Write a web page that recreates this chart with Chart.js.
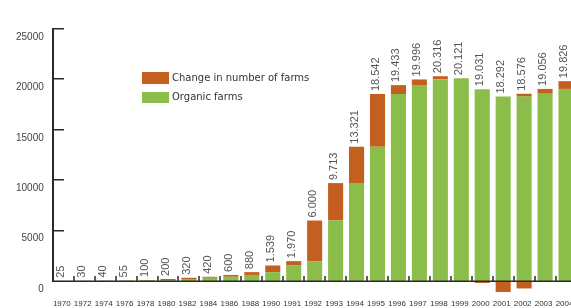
<!DOCTYPE html>
<html>
<head>
<meta charset="utf-8">
<script src="https://cdn.jsdelivr.net/npm/chart.js@4"></script>
<style>
  html, body { margin: 0; padding: 0; background: #fff; overflow: hidden; }
  canvas { display: block; }
</style>
</head>
<body>
<canvas id="grafica" width="578" height="308"></canvas>
<script>
// Años (los primeros cada dos años, luego anuales)
const years = ['1970', '1972', '1974', '1976', '1978', '1980', '1982', '1984', '1986', '1988',
  '1990', '1991', '1992', '1993', '1994', '1995', '1996', '1997', '1998', '1999',
  '2000', '2001', '2002', '2003', '2004'];

// Granjas orgánicas (parte verde)
const organic = [25, 25, 30, 40, 55, 100, 200, 320, 420, 600,
  880, 1539, 1970, 6000, 9713, 13321, 18542, 19433, 19996, 20121,
  19031, 18292, 18292, 18576, 19056];

// Cambio en número de granjas (parte naranja, positiva)
const change = [0, 5, 10, 15, 45, 100, 120, 100, 180, 280,
  659, 431, 4030, 3713, 3608, 5221, 891, 563, 320, 0,
  0, 0, 284, 480, 770];

// Descensos (naranja bajo el cero)
const decline = [0, 0, 0, 0, 0, 0, 0, 0, 0, 0,
  0, 0, 0, 0, 0, 0, 0, 0, 0, 0,
  -195, -1090, -739, 0, 0];

// Etiquetas con el total sobre cada barra
const totalLabels = ['25', '30', '40', '55', '100', '200', '320', '420', '600', '880',
  '1.539', '1.970', '6.000', '9.713', '13.321', '18.542', '19.433', '19.996', '20.316', '20.121',
  '19.031', '18.292', '18.576', '19.056', '19.826'];

const yTicks = [0, 5000, 10000, 15000, 20000, 25000];

const NARANJA = '#c4601f';
const VERDE = '#8bbd4a';

// Ejes dibujados a mano: eje y con marcas hacia dentro, línea base, marcas entre barras y años
const ejesPlugin = {
  id: 'ejes',
  afterDatasetsDraw(chart) {
    const ctx = chart.ctx;
    const x = chart.scales.x;
    const y = chart.scales.y;
    const left = Math.round(chart.chartArea.left);
    const y0 = Math.round(y.getPixelForValue(0));
    const yTop = Math.round(y.getPixelForValue(25000));
    ctx.save();
    ctx.fillStyle = '#2a2a2a';

    // eje y
    ctx.fillRect(left - 1, yTop - 1, 2, y0 - yTop + 2);
    yTicks.forEach(v => {
      if (v === 0) return;
      const py = Math.round(y.getPixelForValue(v));
      ctx.fillRect(left, py - 1, 11, 1.5);
    });

    // línea base
    ctx.fillRect(left, y0 - 0.5, chart.width - left, 1.5);

    // marcas entre categorías
    for (let i = 0; i < years.length - 1; i++) {
      const px = Math.round((x.getPixelForValue(i) + x.getPixelForValue(i + 1)) / 2);
      ctx.fillRect(px - 0.75, y0 - 5, 1.5, 5);
    }

    // años bajo el eje
    ctx.fillStyle = '#333';
    ctx.font = '8px "Liberation Sans", Arial, sans-serif';
    ctx.textAlign = 'center';
    ctx.textBaseline = 'middle';
    chart.data.labels.forEach((lab, i) => {
      ctx.fillText(lab, x.getPixelForValue(i) - 1.5, y0 + 23);
    });

    // Totales rotados sobre cada barra
    ctx.fillStyle = '#555';
    ctx.font = '11px "Liberation Sans", Arial, sans-serif';
    ctx.textAlign = 'left';
    totalLabels.forEach((t, i) => {
      const top = y.getPixelForValue(organic[i] + change[i]);
      const px = x.getPixelForValue(i) - 2;
      ctx.save();
      ctx.translate(px, top - 3);
      ctx.rotate(-Math.PI / 2);
      ctx.fillText(t, 0, 0);
      ctx.restore();
    });

    // Leyenda
    const items = [
      { label: chart.data.datasets[1].label, color: NARANJA, y: 72, h: 12 },
      { label: chart.data.datasets[0].label, color: VERDE, y: 92, h: 11 }
    ];
    ctx.font = '10px "DejaVu Sans", Verdana, sans-serif';
    items.forEach(it => {
      ctx.fillStyle = it.color;
      ctx.fillRect(142, it.y, 27, it.h);
      ctx.fillStyle = '#333';
      ctx.fillText(it.label, 172, it.y + it.h / 2);
    });
    ctx.restore();
  }
};

const ctx = document.getElementById('grafica').getContext('2d');
new Chart(ctx, {
  type: 'bar',
  data: {
    labels: years,
    datasets: [
      {
        label: 'Organic farms',
        data: organic,
        backgroundColor: VERDE,
        clip: false
      },
      {
        label: 'Change in number of farms',
        data: change,
        backgroundColor: NARANJA,
        clip: false
      },
      {
        label: 'decline',
        data: decline,
        backgroundColor: NARANJA,
        clip: false
      }
    ]
  },
  options: {
    responsive: false,
    animation: false,
    layout: { padding: { top: 29, left: 7, right: 1.5, bottom: 27 } },
    datasets: { bar: { barPercentage: 0.72, categoryPercentage: 1 } },
    plugins: {
      legend: { display: false },
      tooltip: { enabled: false }
    },
    scales: {
      x: {
        stacked: true,
        grid: { display: false, drawTicks: false },
        border: { display: false },
        ticks: { display: false }
      },
      y: {
        stacked: true,
        min: 0,
        max: 25000,
        grid: { display: false, drawTicks: false },
        border: { display: false },
        ticks: {
          stepSize: 5000,
          padding: 9,
          labelOffset: 8,
          color: '#444',
          font: { size: 10, family: '"Liberation Sans", Arial, sans-serif' },
          callback: v => String(v)
        }
      }
    }
  },
  plugins: [ejesPlugin]
});
</script>
</body>
</html>
